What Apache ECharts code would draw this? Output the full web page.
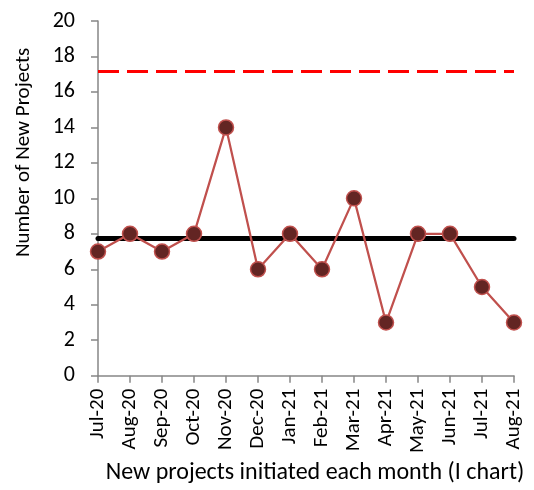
<!DOCTYPE html>
<html>
<head>
<meta charset="utf-8">
<script src="https://cdn.jsdelivr.net/npm/echarts@6/dist/echarts.min.js"></script>
<style>
  html, body { margin: 0; padding: 0; background: #fff; }
  #chart { width: 534px; height: 490px; }
</style>
</head>
<body>
<div id="chart"></div>
<script>
// Monthly new-project counts with centre line and upper control limit (I chart)
const months = ['Jul-20', 'Aug-20', 'Sep-20', 'Oct-20', 'Nov-20', 'Dec-20', 'Jan-21',
                'Feb-21', 'Mar-21', 'Apr-21', 'May-21', 'Jun-21', 'Jul-21', 'Aug-21'];
const newProjects = [7, 8, 7, 8, 14, 6, 8, 6, 10, 3, 8, 8, 5, 3];
const centreLine = 7.74;
const upperLimit = 17.18;

const font = 'Carlito, "Open Sans", "Liberation Sans", sans-serif';
const axisGrey = '#868686';

const chart = echarts.init(document.getElementById('chart'));
chart.setOption({
  animation: false,
  grid: { left: 98, right: 20, top: 21, bottom: 113, containLabel: false },
  xAxis: {
    type: 'category',
    data: months,
    boundaryGap: false,
    name: 'New projects initiated each month (I chart)',
    nameLocation: 'middle',
    nameGap: 83,
    nameTextStyle: { fontFamily: font, fontSize: 24, color: '#000', padding: [0, 0, 0, 18] },
    axisLine: { lineStyle: { color: axisGrey, width: 1.5 } },
    axisTick: { show: true, length: 7, lineStyle: { color: axisGrey, width: 1.5 } },
    axisLabel: { rotate: 90, fontFamily: font, fontSize: 21, color: '#000', margin: 13 },
    splitLine: { show: false }
  },
  yAxis: {
    type: 'value',
    min: 0,
    max: 20,
    interval: 2,
    name: 'Number of New Projects',
    nameLocation: 'middle',
    nameGap: 64,
    nameTextStyle: { fontFamily: font, fontSize: 21, color: '#000', padding: [0, 0, 0, 92] },
    axisLine: { show: true, lineStyle: { color: axisGrey, width: 1.5 } },
    axisTick: { show: true, inside: false, length: 7, lineStyle: { color: axisGrey, width: 1.5 } },
    axisLabel: { fontFamily: font, fontSize: 22, color: '#000', margin: 23 },
    splitLine: { show: false }
  },
  series: [{
    type: 'line',
    data: newProjects,
    symbol: 'circle',
    symbolSize: 15,
    lineStyle: { color: '#C0504D', width: 2.25 },
    itemStyle: { color: '#632523', borderColor: '#C0504D', borderWidth: 1.5 },
    z: 3,
    markLine: {
      silent: true,
      symbol: 'none',
      label: { show: false },
      data: [
        { yAxis: centreLine, lineStyle: { color: '#000', width: 5, type: 'solid', cap: 'round' } },
        { yAxis: upperLimit, lineStyle: { color: '#FF0000', width: 3, type: [21, 8] } }
      ],
      z: 2
    }
  }]
});
</script>
</body>
</html>
